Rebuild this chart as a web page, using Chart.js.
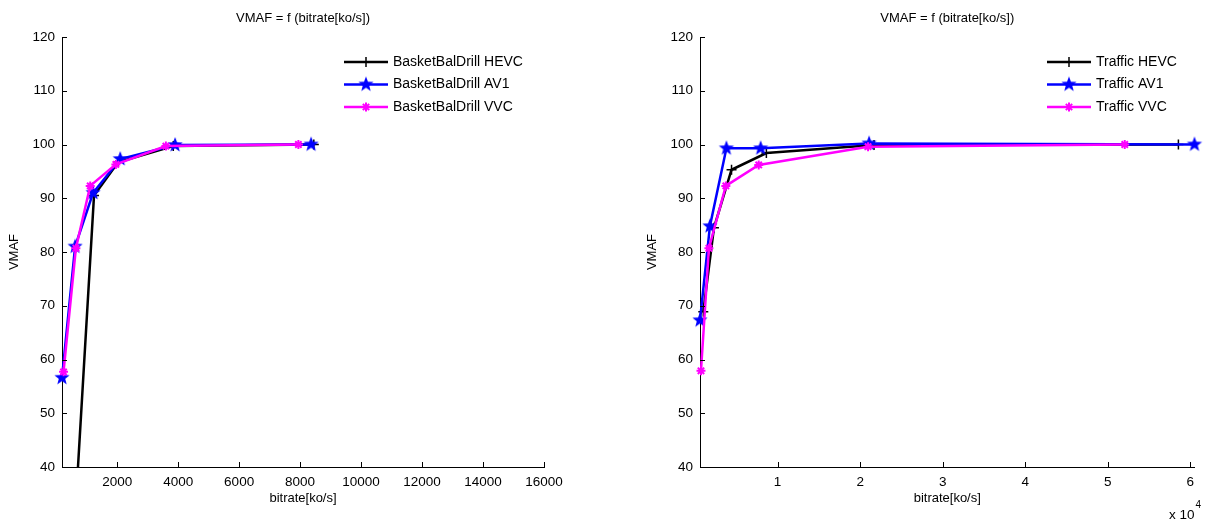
<!DOCTYPE html>
<html>
<head>
<meta charset="utf-8">
<title>VMAF = f (bitrate)</title>
<script src="https://cdn.jsdelivr.net/npm/chart.js@4.4.1/dist/chart.umd.min.js"></script>
<style>
    body { margin: 0; background: #fff; }
    #left { position: absolute; left: 0; top: 0; width: 600px; height: 520px; }
    #right { position: absolute; left: 600px; top: 0; width: 605px; height: 520px; }
</style>
</head>
<body>
<div id="left"><canvas id="chart-left"></canvas></div>
<div id="right"><canvas id="chart-right"></canvas></div>
<script>
// BasketBalDrill (left plot) - bitrate in ko/s, VMAF score
const bbHevcRate = [350, 1240, 2030, 3840, 8450];
const bbHevcVmaf = [5, 90.5, 96.7, 99.7, 100];
const bbAv1Rate = [190, 620, 1210, 2100, 3900, 8360];
const bbAv1Vmaf = [56.6, 81, 91, 97.3, 99.9, 100];
const bbVvcRate = [240, 646, 1115, 1957, 3597, 7944];
const bbVvcVmaf = [57.7, 80.7, 92.3, 96.3, 99.7, 100];

// Traffic (right plot)
const trHevcRate = [1000, 2290, 4420, 8640, 21680, 58550];
const trHevcVmaf = [68.9, 84.5, 95.3, 98.4, 99.9, 100];
const trAv1Rate = [600, 1800, 3800, 7950, 21080, 60500];
const trAv1Vmaf = [67.3, 84.8, 99.3, 99.3, 100.2, 100];
const trVvcRate = [720, 1680, 3730, 7710, 20960, 52050];
const trVvcVmaf = [57.9, 80.7, 92.3, 96.2, 99.6, 100];

// Tick labels
const yTicks = [40, 50, 60, 70, 80, 90, 100, 110, 120];
const leftXTicks = [2000, 4000, 6000, 8000, 10000, 12000, 14000, 16000];
const rightXTicks = [10000, 20000, 30000, 40000, 50000, 60000];

const FONT = '"Liberation Sans", Arial, sans-serif';

// filled pentagram like matlab's 'p' marker
function makeStar(r, color) {
    const c = document.createElement('canvas');
    c.width = c.height = 2 * r + 2;
    const ctx = c.getContext('2d');
    ctx.beginPath();
    for (let i = 0; i < 10; i++) {
        const ang = -Math.PI / 2 + i * Math.PI / 5;
        const rad = i % 2 ? r * 0.42 : r;
        const px = r + 1 + rad * Math.cos(ang);
        const py = r + 1 + rad * Math.sin(ang);
        if (i === 0) ctx.moveTo(px, py); else ctx.lineTo(px, py);
    }
    ctx.closePath();
    ctx.fillStyle = color;
    ctx.fill();
    return c;
}
const blueStar = makeStar(8, '#0000ff');

function points(rates, vals) {
    return rates.map((r, i) => ({ x: r, y: vals[i] }));
}

function makeDatasets(names, hevc, av1, vvc) {
    const clip = { left: 10, top: 10, right: 10, bottom: 0 };
    return [
        { label: names[0], data: hevc, borderColor: '#000000', backgroundColor: '#000000',
          borderWidth: 2.5, pointStyle: 'cross', pointRadius: 5, pointBorderWidth: 1.5, order: 2, clip },
        { label: names[1], data: av1, borderColor: '#0000ff', backgroundColor: '#0000ff',
          borderWidth: 2.5, pointStyle: blueStar, pointRadius: 8, order: 1, clip },
        { label: names[2], data: vvc, borderColor: '#ff00ff', backgroundColor: '#ff00ff',
          borderWidth: 2.5, pointStyle: 'star', pointRadius: 4.5, pointBorderWidth: 2, order: 0, clip }
    ];
}

function drawMarker(ctx, ds, x, y) {
    if (typeof ds.pointStyle === 'object') {
        ctx.drawImage(ds.pointStyle, x - ds.pointStyle.width / 2, y - ds.pointStyle.height / 2);
        return;
    }
    const r = ds.pointRadius;
    ctx.strokeStyle = ds.borderColor;
    ctx.lineWidth = ds.pointBorderWidth;
    ctx.beginPath();
    ctx.moveTo(x - r, y); ctx.lineTo(x + r, y);
    ctx.moveTo(x, y - r); ctx.lineTo(x, y + r);
    if (ds.pointStyle === 'star') {
        const d = r * 0.7;
        ctx.moveTo(x - d, y - d); ctx.lineTo(x + d, y + d);
        ctx.moveTo(x - d, y + d); ctx.lineTo(x + d, y - d);
    }
    ctx.stroke();
}

// inward ticks, title, legend and exponent, drawn the matlab way
const matlabPlugin = {
    id: 'matlab',
    afterDraw(chart, args, opts) {
        const ctx = chart.ctx;
        const a = chart.chartArea;
        const xs = chart.scales.x, ys = chart.scales.y;
        ctx.save();
        ctx.strokeStyle = '#000';
        ctx.lineWidth = 1;
        ctx.beginPath();
        xs.ticks.forEach(t => {
            const px = Math.round(xs.getPixelForValue(t.value)) + 0.5;
            ctx.moveTo(px, a.bottom); ctx.lineTo(px, a.bottom - 5);
        });
        ys.ticks.forEach(t => {
            const py = Math.round(ys.getPixelForValue(t.value)) + 0.5;
            ctx.moveTo(a.left, py); ctx.lineTo(a.left + 5, py);
        });
        ctx.stroke();

        ctx.fillStyle = '#000';
        ctx.font = '13px ' + FONT;
        ctx.textAlign = 'center';
        ctx.textBaseline = 'middle';
        ctx.fillText(opts.title, (a.left + a.right) / 2, 18);

        // legend
        const rows = [62, 84.5, 107];
        ctx.font = '14px ' + FONT;
        chart.data.datasets.forEach((ds, i) => {
            const y = rows[i];
            ctx.strokeStyle = ds.borderColor;
            ctx.lineWidth = ds.borderWidth;
            ctx.beginPath();
            ctx.moveTo(opts.legendX, y); ctx.lineTo(opts.legendX + 44, y);
            ctx.stroke();
            drawMarker(ctx, ds, opts.legendX + 22, y);
            ctx.fillStyle = '#000';
            ctx.textAlign = 'left';
            ctx.fillText(ds.label, opts.legendX + 49, y);
        });

        if (opts.exponent) {
            ctx.textAlign = 'left';
            ctx.font = '13.5px ' + FONT;
            ctx.fillText('x 10', 569, 515);
            const w = ctx.measureText('x 10').width;
            ctx.font = '10px ' + FONT;
            ctx.fillText('4', 569 + w + 1, 505);
        }
        ctx.restore();
    }
};

function makeChart(id, cfg) {
    const tickFont = { family: FONT, size: 13.5 };
    return new Chart(document.getElementById(id), {
        type: 'line',
        data: { datasets: cfg.datasets },
        options: {
            responsive: true,
            maintainAspectRatio: false,
            animation: false,
            devicePixelRatio: 1,
            layout: { padding: cfg.padding },
            plugins: {
                legend: { display: false },
                tooltip: { enabled: false },
                title: { display: false },
                matlab: { title: 'VMAF = f (bitrate[ko/s])', legendX: cfg.legendX, exponent: cfg.exponent }
            },
            scales: {
                x: {
                    type: 'linear',
                    min: cfg.xMin,
                    max: cfg.xMax,
                    afterBuildTicks: s => { s.ticks = cfg.xTicks.map(v => ({ value: v })); },
                    afterFit: s => { s.height = 53; },
                    grid: { display: false, drawTicks: false },
                    border: { display: true, color: '#000', width: 1 },
                    ticks: { color: '#000', font: tickFont, padding: 7, maxRotation: 0, autoSkip: false,
                             callback: cfg.xLabel },
                    title: { display: true, text: 'bitrate[ko/s]', color: '#000', font: { family: FONT, size: 13 },
                             padding: { top: 0, bottom: 14 } }
                },
                y: {
                    min: 40,
                    max: 120,
                    afterBuildTicks: s => { s.ticks = yTicks.map(v => ({ value: v })); },
                    afterFit: s => { s.width = 62; },
                    grid: { display: false, drawTicks: false },
                    border: { display: true, color: '#000', width: 1 },
                    ticks: { color: '#000', font: tickFont, padding: 7, autoSkip: false },
                    title: { display: true, text: 'VMAF', color: '#000', font: { family: FONT, size: 13 },
                             padding: { top: 7, bottom: 0 } }
                }
            }
        },
        plugins: [matlabPlugin]
    });
}

makeChart('chart-left', {
    datasets: makeDatasets(['BasketBalDrill HEVC', 'BasketBalDrill AV1', 'BasketBalDrill VVC'],
        points(bbHevcRate, bbHevcVmaf), points(bbAv1Rate, bbAv1Vmaf), points(bbVvcRate, bbVvcVmaf)),
    padding: { left: 0, right: 56, top: 37, bottom: 0 },
    xMin: 190, xMax: 16000, xTicks: leftXTicks,
    xLabel: v => String(v),
    legendX: 344,
    exponent: false
});

makeChart('chart-right', {
    datasets: makeDatasets(['Traffic HEVC', 'Traffic AV1', 'Traffic VVC'],
        points(trHevcRate, trHevcVmaf), points(trAv1Rate, trAv1Vmaf), points(trVvcRate, trVvcVmaf)),
    padding: { left: 38, right: 8, top: 37, bottom: 0 },
    xMin: 600, xMax: 60500, xTicks: rightXTicks,
    xLabel: v => String(v / 10000),
    legendX: 447,
    exponent: true
});
</script>
</body>
</html>
